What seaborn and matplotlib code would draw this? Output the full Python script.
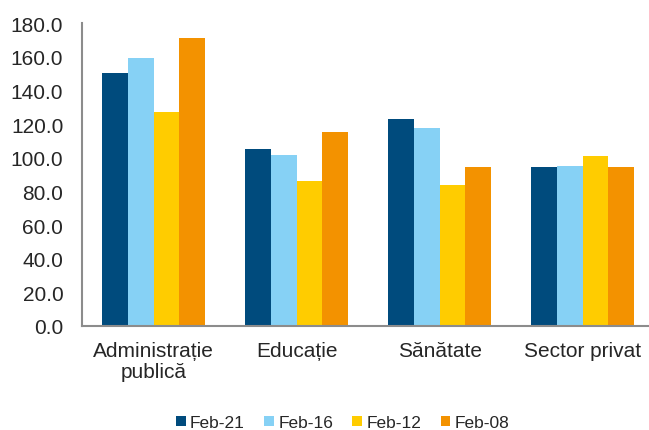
import matplotlib
matplotlib.use('Agg')
import matplotlib.pyplot as plt
import seaborn as sns
import pandas as pd

categories = ['Administrație\npublică', 'Educație', 'Sănătate', 'Sector privat']
series = ['Feb-21', 'Feb-16', 'Feb-12', 'Feb-08']
feb21 = [150.2, 105.3, 123.2, 94.5]
feb16 = [159.4, 101.6, 117.6, 95.1]
feb12 = [127.0, 86.2, 83.6, 101.2]
feb08 = [171.1, 115.3, 94.7, 94.7]
colors = ['#004B7D', '#86D1F5', '#FFCC00', '#F39200']

rows = []
for s, vals in zip(series, [feb21, feb16, feb12, feb08]):
    for c, v in zip(categories, vals):
        rows.append({'cat': c, 'serie': s, 'val': v})
df = pd.DataFrame(rows)

sns.set_style('white')
plt.rcParams['font.family'] = ['Liberation Sans', 'DejaVu Sans']

fig = plt.figure(figsize=(6.49, 4.31), dpi=100)
ax = fig.add_axes([0.1264, 0.2413, 0.875, 0.703])

sns.barplot(data=df, x='cat', y='val', hue='serie', order=categories,
            hue_order=series, palette=colors, width=0.72, saturation=1,
            linewidth=0, ax=ax, legend=True)

ax.set_ylim(0, 180)
ax.set_yticks(range(0, 181, 20))
ax.set_yticklabels([f'{v:.1f}' for v in range(0, 181, 20)])
ax.set_xlim(-0.5, 3.47)
ax.set_xlabel('')
ax.set_ylabel('')
ax.tick_params(axis='y', length=0, pad=13.5, labelsize=15)
ax.tick_params(axis='x', length=0, pad=11, labelsize=15)
for lbl in ax.get_xticklabels():
    lbl.set_linespacing(1.1)
for sp in ['top', 'right']:
    ax.spines[sp].set_visible(False)
for sp in ['left', 'bottom']:
    ax.spines[sp].set_color('#8C8C8C')
    ax.spines[sp].set_linewidth(1.5)

handles, labels = ax.get_legend_handles_labels()
ax.get_legend().remove()
fig.legend(handles, labels, loc='center', bbox_to_anchor=(0.528, 0.017),
           ncol=4, frameon=False, fontsize=12.5, handlelength=0.55,
           handleheight=0.55, handletextpad=0.25, columnspacing=1.12,
           borderpad=0)

fig.savefig('out.png', dpi=100)
